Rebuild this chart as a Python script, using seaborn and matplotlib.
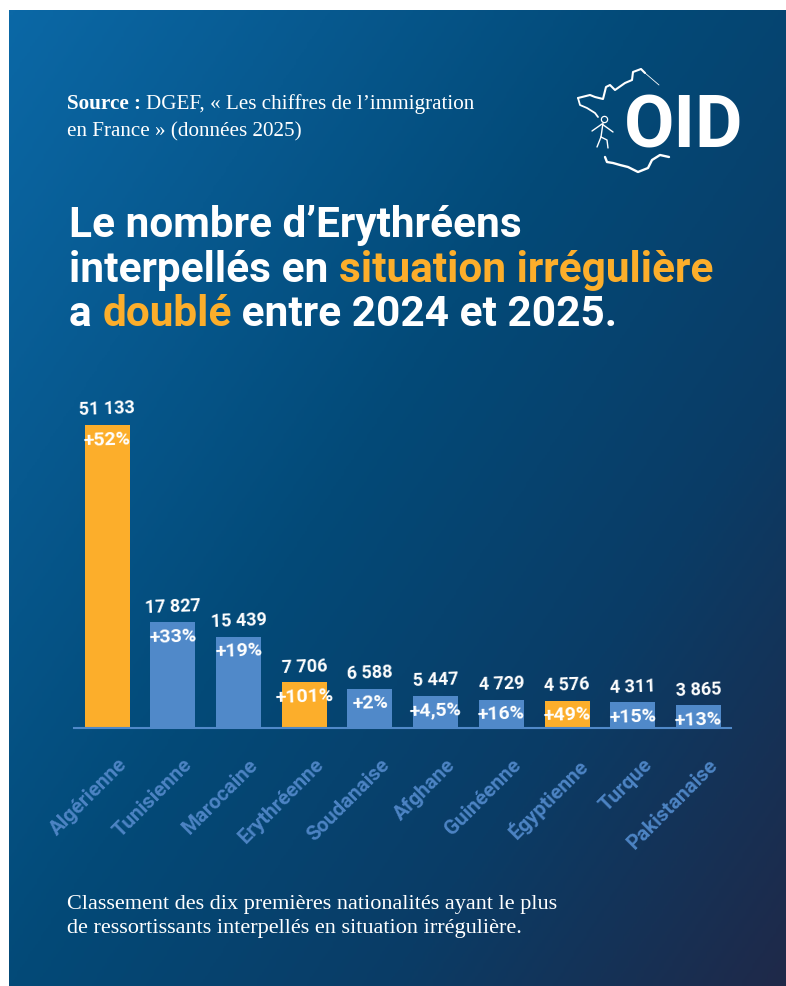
import numpy as np
import pandas as pd
import matplotlib
matplotlib.use("Agg")
import matplotlib.pyplot as plt
from matplotlib.colors import LinearSegmentedColormap
from matplotlib.transforms import ScaledTranslation
import seaborn as sns

nationalites = ["Algérienne", "Tunisienne", "Marocaine", "Erythréenne", "Soudanaise",
                "Afghane", "Guinéenne", "Égyptienne", "Turque", "Pakistanaise"]
interpelles = [51133, 17827, 15439, 7706, 6588, 5447, 4729, 4576, 4311, 3865]
valeurs_txt = ["51 133", "17 827", "15 439", "7 706", "6 588", "5 447", "4 729", "4 576", "4 311", "3 865"]
hausses = ["+52%", "+33%", "+19%", "+101%", "+2%", "+4,5%", "+16%", "+49%", "+15%", "+13%"]
groupes = ["o", "b", "b", "o", "b", "b", "b", "o", "b", "b"]

W, H = 786, 986
ORANGE = "#fcae2b"
BLEU = "#5089c9"
LABEL = "#4d84c4"
sans = "Roboto"
serif = "Liberation Serif"

sns.set_theme(style="white")
plt.rcParams["font.family"] = [sans, "DejaVu Sans"]


def box(x0, y0, x1, y1):
    # pixels depuis le haut gauche -> coordonnees figure
    return [x0 / W, 1 - y1 / H, (x1 - x0) / W, (y1 - y0) / H]


fig = plt.figure(figsize=(W / 100, H / 100), dpi=100, facecolor="white")

# fond en degrade diagonal
bg = fig.add_axes(box(9, 10, 786, 986))
gx, gy = np.meshgrid(np.linspace(0, 1, 300), np.linspace(0, 1, 300))
cmap = LinearSegmentedColormap.from_list(
    "fond", [(0, "#0b68a6"), (0.45, "#034a78"), (0.72, "#0a3c66"), (1, "#1f2949")])
bg.imshow((gx * 0.55 + gy * 0.45), cmap=cmap, aspect="auto", vmin=0, vmax=1)
bg.axis("off")


def px(x, y):
    return x / W, 1 - y / H


def ligne(morceaux, x, y, size, family=sans):
    # texte a plusieurs couleurs, pose morceau par morceau
    r = fig.canvas.get_renderer()
    for s, c, w in morceaux:
        t = fig.text(*px(x, y), s, color=c, fontsize=size, family=family,
                     fontweight=w, va="baseline", ha="left")
        x += t.get_window_extent(r).width
    return x


ligne([("Source : ", "white", "bold"), ("DGEF, « Les chiffres de l’immigration", "white", "normal")],
      67, 109, 15.2, serif)
ligne([("en France » (données 2025)", "white", "normal")], 67, 136, 15.2, serif)

T = 30.5
ligne([("Le nombre d’Erythréens", "white", "bold")], 69, 237, T)
ligne([("interpellés en ", "white", "bold"), ("situation irrégulière", ORANGE, "bold")], 69, 282, T)
ligne([("a ", "white", "bold"), ("doublé", ORANGE, "bold"), (" entre 2024 et 2025.", "white", "bold")], 69, 326, T)

ligne([("Classement des dix premières nationalités ayant le plus", "white", "normal")], 67, 909, 16, serif)
ligne([("de ressortissants interpellés en situation irrégulière.", "white", "normal")], 67, 933, 16, serif)

# logo OID
fig.text(*px(624, 147), "OID", color="white", fontsize=52.7, fontweight="bold", family=sans, va="baseline")
logo = fig.add_axes([0, 0, 1, 1], facecolor="none")
logo.set_xlim(0, W)
logo.set_ylim(H, 0)
logo.axis("off")
trace_haut = [(578, 98), (582, 97), (590, 95), (595, 97), (603, 99), (606, 87), (610, 85), (615, 90),
              (625, 83), (632, 80), (633, 72), (641, 69), (645, 73)]
trace_fin = [(645, 73), (652, 79), (659, 85)]
trace_ouest = [(578, 98), (580, 105), (587, 108), (595, 113), (598, 117)]
trace_bas = [(605, 157), (607, 162), (613, 163), (620, 165), (628, 167), (638, 172), (648, 168),
             (652, 160), (660, 155), (669, 157)]
corps = [(603, 123), (601, 137)]
bras = [(592, 131), (602, 124), (613, 132)]
jambe_g = [(601, 137), (597, 147)]
jambe_d = [(601, 137), (607, 140), (608, 148)]
for tr, lw in [(trace_haut, 1.5), (trace_fin, 0.6), (trace_ouest, 1.3), (trace_bas, 1.7),
               (corps, 1), (bras, 1), (jambe_g, 1), (jambe_d, 1)]:
    logo.plot(*zip(*tr), color="white", lw=lw, solid_joinstyle="round")
logo.plot([604], [119], "o", mfc="none", mec="white", ms=4.5, mew=0.9)

# graphique
df = pd.DataFrame({"nationalite": nationalites, "n": interpelles, "groupe": groupes})
ax = fig.add_axes(box(74.3, 425, 731.3, 728), facecolor="none")
sns.barplot(data=df, x="nationalite", y="n", hue="groupe", palette={"o": ORANGE, "b": BLEU},
            dodge=False, width=0.685, legend=False, saturation=1, linewidth=0, ax=ax)
ax.set_xlim(-0.5, 9.5)
ax.set_ylim(0, max(interpelles))
ax.set_xlabel("")
ax.set_ylabel("")
ax.set_yticks([])
sns.despine(ax=ax, left=True)
ax.spines["bottom"].set_color(BLEU)
ax.spines["bottom"].set_linewidth(1.5)
ax.tick_params(axis="x", length=0, pad=0)
ax.set_xticks(range(len(nationalites)))
ax.set_xticklabels(nationalites, rotation=45, ha="right", rotation_mode="anchor",
                   color=LABEL, fontsize=14.8, fontweight="bold")
dec = ScaledTranslation(10 / 100, -27 / 100, fig.dpi_scale_trans)
for lab in ax.get_xticklabels():
    lab.set_transform(lab.get_transform() + dec)

for i, (v, tv, th) in enumerate(zip(interpelles, valeurs_txt, hausses)):
    ax.annotate(tv, (i, v), xytext=(0, 4), textcoords="offset points", ha="center", va="bottom",
                color="white", fontsize=13, fontweight="bold", rotation=2, annotation_clip=False)
    ax.annotate(th, (i, v), xytext=(0, -3.5), textcoords="offset points", ha="center", va="top",
                color="white", fontsize=14, fontweight="bold", rotation=2, annotation_clip=False)

fig.savefig("out.png", dpi=100, facecolor="white")
